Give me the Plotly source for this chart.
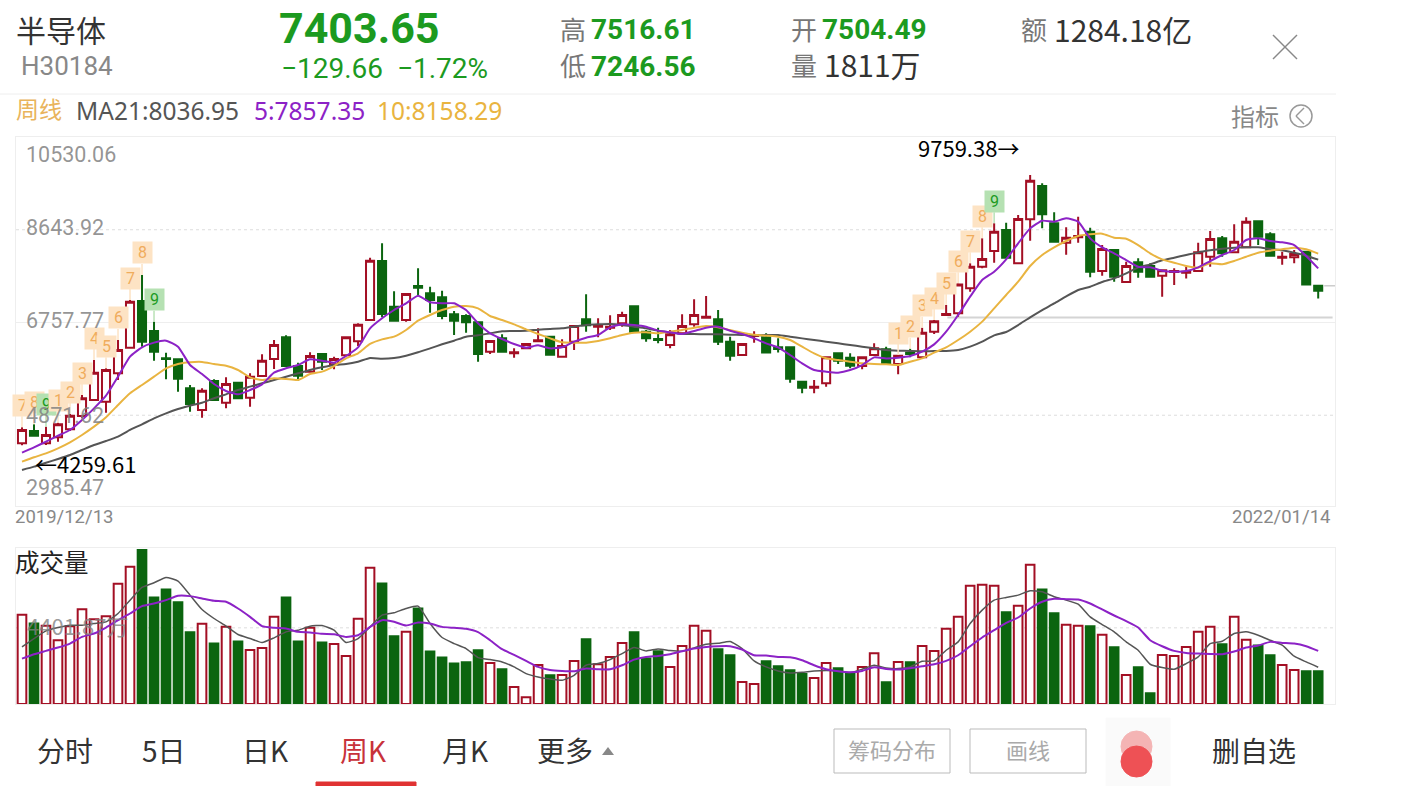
import plotly.graph_objects as go
from plotly.subplots import make_subplots

W, H = 1412, 786

# weekly candles
opens = [4300,4551,4300,4422,4585,4856,5182,5148,5724,6246,7195,6585,6029,6009,5419,4978,5568,5127,5534,5229,
         5670,6016,6456,5873,5758,6117,5907,6090,6375,6809,8009,7080,6809,7500,7351,7270,6924,6890,6761,6165,
         6436,6131,6232,6375,6470,6063,6368,6822,6673,6653,6741,7087,6571,6422,6300,6537,6720,6856,6822,6368,
         6096,6483,6456,6252,6252,5554,5432,5520,6130,6042,5873,6096,6212,5913,6144,6049,6571,6910,6944,7452,
         7893,8211,8638,7961,8855,9533,8774,8381,8489,8605,7805,8232,7581,7981,7906,7710,7784,7771,7805,8096,
         8469,8184,8286,8815,8550,8076,8083,8198,7504.49]
highs = [4626,4687,4639,4721,4897,5283,5995,5826,6402,7215,7724,6775,6144,6009,5487,5419,5602,5643,5555,5724,
         6110,6402,6497,5941,6151,6131,6063,6470,6741,8076,8368,7392,7351,7859,7487,7405,6992,6924,6761,6382,
         6517,6232,6334,6639,6483,6415,6707,7331,6843,6904,6978,7100,6605,6653,6605,6923,7228,7296,7011,6469,
         6320,6578,6537,6435,6252,5554,5588,6062,6130,6130,6062,6334,6266,6096,6225,6652,6808,7113,7554,7961,
         8469,8774,8788,8943,9759.38,9587,8998,8693,8910,8686,8333,8232,7994,8062,7961,7838,7859,7893,8381,8618,
         8516,8754,8896,8815,8591,8198,8232,8198,7516.61]
lows = [4259.61,4456,4267,4334,4551,4809,5168,4924,5588,6232,6266,5982,5602,5351,4944,4822,5182,5012,5216,5046,
        5656,5812,5860,5575,5738,5792,5805,6077,6280,6795,6863,6795,6775,7317,6958,6822,6504,6551,5961,6117,
        6144,6043,6219,6375,6104,6049,6199,6571,6456,6605,6673,6571,6368,6334,6232,6503,6672,6856,6300,5981,
        6096,6347,6150,6150,5534,5317,5317,5452,5913,5825,5805,6083,5927,5703,6049,6015,6523,6889,6876,7384,
        7859,7974,8076,7947,8421,8672,8401,8137,8381,7676,7710,7588,7567,7669,7689,7283,7520,7655,7791,7893,
        8096,8177,8266,8333,8116,7933,7961,7527,7246.56]
closes = [4571,4456,4470,4687,4863,5216,5738,5792,6199,7182,6368,6165,6016,5616,5100,5372,5182,5507,5216,5656,
          5982,6300,5873,5677,6077,5961,6016,6456,6714,8015,6931,6795,7337,7466,7215,6890,6795,6761,6117,6382,
          6165,6151,6321,6395,6104,6280,6687,6700,6707,6673,6910,6571,6436,6402,6517,6686,6910,6876,6368,6083,
          6320,6503,6150,6218,5615,5432,5452,6049,5981,5879,6049,6232,5927,6083,6117,6550,6781,6930,7533,7893,
          8049,8605,8076,8862,9642,8957,8401,8482,8516,7791,8252,7689,7906,7791,7689,7818,7805,7791,8184,8455,
          8164,8401,8808,8503,8116,8096,8150,7533,7403.65]

ma21 = [3758,3826,3907,3982,4063,4165,4267,4348,4436,4572,4687,4809,4911,4999,5066,5127,5216,5297,5385,5453,
        5521,5588,5656,5724,5792,5846,5894,5914,5961,6036,6022,6036,6083,6151,6232,6314,6388,6470,6497,6538,
        6578,6585,6592,6612,6626,6639,6673,6707,6720,6727,6707,6673,6639,6592,6558,6523,6523,6517,6517,6510,
        6503,6497,6503,6503,6469,6435,6402,6368,6334,6300,6266,6232,6198,6185,6178,6171,6178,6178,6198,6266,
        6368,6496,6564,6706,6862,7011,7147,7289,7418,7486,7581,7655,7757,7879,7940,8022,8076,8130,8184,8225,
        8259,8279,8286,8286,8252,8225,8177,8116,8036.95]
ma5 = [4111,4219,4334,4456,4572,4775,5012,5270,5656,6063,6253,6348,6388,6266,5894,5710,5507,5365,5297,5385,
       5500,5738,5826,5894,6009,5982,5941,6077,6253,6639,6843,7012,7148,7304,7168,7148,7148,7012,6741,6538,
       6422,6321,6246,6293,6232,6253,6368,6449,6504,6660,6721,6707,6673,6592,6558,6523,6584,6652,6672,6591,
       6523,6435,6334,6252,6096,5927,5791,5757,5737,5791,5893,6049,6028,6042,6076,6164,6313,6571,6910,7283,
       7622,7791,8042,8367,8672,8828,8808,8876,8808,8469,8286,8164,8028,7893,7879,7811,7791,7805,7879,8008,
       8130,8232,8435,8469,8415,8388,8333,8110,7857.35]
ma10 = [3928,4016,4097,4199,4321,4470,4639,4829,5080,5317,5487,5656,5826,5914,5948,5955,5914,5880,5792,5643,
        5588,5622,5609,5588,5710,5758,5873,6029,6131,6321,6415,6470,6605,6795,6910,7012,7080,7093,7046,6890,
        6809,6720,6619,6524,6436,6354,6348,6348,6382,6436,6504,6551,6558,6537,6571,6605,6652,6686,6659,6605,
        6551,6510,6490,6469,6402,6266,6130,6029,5995,5961,5927,5913,5907,5893,5961,6029,6144,6252,6402,6571,
        6775,7046,7317,7588,7906,8130,8286,8415,8516,8550,8564,8482,8462,8333,8164,8042,7974,7906,7873,7961,
        7941,8008,8096,8177,8218,8246,8279,8246,8158.29]

# volume, in 万
volume = [5153,4651,4516,3686,4497,5481,4902,5076,6948,7932,8897,6157,6620,5887,4150,4632,3493,4458,3609,3127,
          3242,5037,6157,3609,4400,3551,3474,2779,4922,7874,6967,3918,4169,5520,3030,2683,2335,2413,3107,2374,
          2007,984,386,2258,1660,1679,2490,3744,2297,2721,3532,4150,2625,3049,2142,3358,4516,4227,3165,2818,
          1274,1158,2470,2181,1949,1737,1505,2374,2065,1795,2142,2934,1255,2432,2413,3358,3069,4343,5037,6832,
          6890,6832,5308,5674,8048,6620,5250,4574,4516,4497,3995,3281,1679,2123,618,2837,2779,3300,4169,4458,
          3455,5037,3706,3378,2818,2258,1969,1891,1891]
vol_ma_short = [3300,3783,4227,4420,4555,4555,4651,4748,5230,6002,6736,7006,7315,7102,6292,5462,4941,4497,4014,3783,
                3551,3821,4169,4265,4497,4536,4265,3551,3783,4458,5134,5269,5520,5655,4651,3841,3493,3204,2683,2567,
                2432,2142,1756,1563,1448,1370,1660,2239,2335,2567,2914,3262,3069,3185,3088,3049,3242,3455,3513,3609,
                3204,2490,2142,1911,1795,1834,1911,1930,1911,1814,2007,2239,2084,2046,2142,2470,2490,3107,3590,4651,
                5423,6002,6157,6292,6543,6485,6195,6002,5771,5037,4593,4169,3590,3107,2297,2104,2007,2335,2721,3493,
                3628,4072,4169,3976,3686,3397,2760,2432,2123]
vol_ma_long = [2625,2876,3069,3262,3493,3879,4072,4420,4844,5230,5655,5809,6002,6253,6234,6099,5964,5906,5520,5037,
               4497,4400,4362,4169,4130,4053,4034,3879,3976,4458,4844,4748,4536,4709,4651,4458,4400,4343,4150,3686,
               3165,2837,2490,2142,1969,1911,1891,2046,2007,2007,2239,2567,2721,2779,2876,3049,3204,3300,3339,3339,
               3146,2818,2799,2721,2702,2528,2239,2007,1891,1834,1911,2123,2027,1988,2065,2181,2297,2490,2818,3339,
               3841,4265,4690,4999,5520,5906,6080,6060,6041,5809,5462,5115,4786,4420,3686,3339,3069,2953,2914,2895,
               2876,3030,3262,3378,3590,3532,3493,3339,3069]

# TD count bubbles: candle position and number
td_pos = [0,1,2,3,4,5,6,7,8,9,10,11, 73,74,75,76,77,78,79,80,81]
td_num = ["7","8","9","1","2","3","4","5","6","7","8","9", "1","2","3","4","5","6","7","8","9"]

grid_dotted = [8643.92, 4871.62]
grid_solid = [6757.77]
vol_grid = [4401.87]
y_labels = ["10530.06", "8643.92", "6757.77", "4871.62", "2985.47"]
y_label_px = [154, 227, 320, 415, 487]

RED, GREEN = "#a30f24", "#0b650f"
PURPLE, ORANGE, GREY = "#8c22c6", "#e9b440", "#555555"
TXT_GREEN = "#1c9a1f"
CJK = "Noto Sans CJK SC"
NUM = "Roboto"


def px(x):
    return x / W


def py(y):
    return 1 - y / H


x = list(range(len(closes)))

fig = make_subplots(rows=2, cols=1)

fig.add_trace(go.Candlestick(
    x=x, open=opens, high=highs, low=lows, close=closes,
    increasing=dict(line=dict(color=RED, width=2), fillcolor="white"),
    decreasing=dict(line=dict(color=GREEN, width=2), fillcolor=GREEN),
    whiskerwidth=0, hoverinfo="skip",
), row=1, col=1)
for vals, col in [(ma21, GREY), (ma10, ORANGE), (ma5, PURPLE)]:
    fig.add_trace(go.Scatter(x=x, y=vals, mode="lines", hoverinfo="skip",
                             line=dict(color=col, width=2, shape="spline", smoothing=0.5)), row=1, col=1)

bar_fill = ["white" if c > o else GREEN for o, c in zip(opens, closes)]
bar_line = [RED if c > o else GREEN for o, c in zip(opens, closes)]
fig.add_trace(go.Bar(x=x, y=volume, width=0.72, hoverinfo="skip",
                     marker=dict(color=bar_fill, line=dict(color=bar_line, width=2))), row=2, col=1)
fig.add_trace(go.Scatter(x=x, y=vol_ma_short, mode="lines", hoverinfo="skip",
                         line=dict(color=GREY, width=1.5, shape="spline", smoothing=0.5)), row=2, col=1)
fig.add_trace(go.Scatter(x=x, y=vol_ma_long, mode="lines", hoverinfo="skip",
                         line=dict(color=PURPLE, width=2, shape="spline", smoothing=0.5)), row=2, col=1)

annotations = []


def label(text, x0, y0, size, color, anchor="left", family=CJK):
    # annotation boxes sit a little right of and under the given point
    if anchor == "left":
        x0 -= 2
    elif anchor == "right":
        x0 += 2
    if family == CJK:
        y0 -= 2
    annotations.append(dict(text=text, x=px(x0), y=py(y0), xref="paper", yref="paper", showarrow=False,
                            xanchor=anchor, yanchor="middle", borderpad=0,
                            font=dict(size=size, color=color, family=family)))


# TD bubbles, stem pointing at the candle high
for pos, num in zip(td_pos, td_num):
    is_nine = num == "9"
    annotations.append(dict(text=num, x=pos, y=highs[pos], xref="x", yref="y", ax=0, ay=-22,
                            showarrow=True, arrowhead=0, arrowwidth=1.5,
                            arrowcolor="#b9e2b6" if is_nine else "#fde3c4",
                            width=19, height=21, borderpad=0,
                            bgcolor="#b5e1b2" if is_nine else "#fde3c4",
                            font=dict(size=16, color="#1c9a1f" if is_nine else "#f0ac5c", family=NUM)))

# header
label("半导体", 17, 31, 30, "#333333")
label("H30184", 22, 66, 26, "#888888", family=NUM)
label("<b>7403.65</b>", 280, 28, 43, TXT_GREEN, family=NUM)
label("−129.66  −1.72%", 282, 68, 28, TXT_GREEN, family=NUM)
label("高", 561, 31, 26, "#777777")
label("低", 561, 66, 26, "#777777")
label("<b>7516.61</b>", 592, 30, 28, TXT_GREEN, family=NUM)
label("<b>7246.56</b>", 592, 66, 28, TXT_GREEN, family=NUM)
label("开", 792, 31, 26, "#777777")
label("量", 792, 66, 26, "#777777")
label("<b>7504.49</b>", 823, 30, 28, TXT_GREEN, family=NUM)
label("1811万", 825, 66, 30, "#333333")
label("额", 1022, 31, 26, "#777777")
label("1284.18亿", 1055, 31, 30, "#333333")

# indicator line
label("周线", 17, 110, 23, "#e9b45c")
label("MA21:8036.95", 77, 111, 24.5, "#555555", family="Noto Sans")
label("5:7857.35", 255, 111, 24.5, PURPLE, family="Noto Sans")
label("10:8158.29", 378, 111, 24.5, ORANGE, family="Noto Sans")
label("指标", 1232, 117, 24, "#888888")

# price axis labels
for text, ypx in zip(y_labels, y_label_px):
    label(text, 27, ypx, 21.5, "rgba(130,130,130,0.85)", family=NUM)
label("9759.38→", 919, 149, 22, "#000000")
label("←4259.61", 36, 465, 22, "#000000")
label("2019/12/13", 16, 517, 18.5, "#888888", family=NUM)
label("2022/01/14", 1329, 517, 18.5, "#888888", anchor="right", family=NUM)

label("成交量", 16, 563, 24.5, "#222222")
label("4401.87万", 28, 627, 22, "rgba(130,130,130,0.8)")

# bottom tabs
label("分时", 38, 752, 28, "#333333")
label("5日", 143, 752, 28, "#333333")
label("日K", 243, 752, 28, "#333333")
label("周K", 341, 752, 28, "#c8323a")
label("月K", 443, 752, 28, "#333333")
label("更多", 538, 752, 28, "#333333")
label("筹码分布", 892, 751, 22, "#aaaaaa", anchor="center")
label("画线", 1028, 751, 22, "#aaaaaa", anchor="center")
label("删自选", 1213, 752, 28, "#333333")

shapes = []


def hline(x0, x1, y0, color, width=1):
    shapes.append(dict(type="line", xref="paper", yref="paper", x0=px(x0), x1=px(x1), y0=py(y0), y1=py(y0),
                       line=dict(color=color, width=width)))


def box(x0, y0, x1, y1, line, fill="rgba(0,0,0,0)", kind="rect", width=1):
    shapes.append(dict(type=kind, xref="paper", yref="paper", x0=px(x0), x1=px(x1), y0=py(y0), y1=py(y1),
                       line=dict(color=line, width=width), fillcolor=fill))


# grid lines on the value scales
for v in grid_dotted:
    shapes.append(dict(type="line", xref="x domain", yref="y", x0=0, x1=1, y0=v, y1=v, layer="below",
                       line=dict(color="#dddddd", width=1, dash="dot")))
for v in grid_solid:
    shapes.append(dict(type="line", xref="x domain", yref="y", x0=0, x1=1, y0=v, y1=v, layer="below",
                       line=dict(color="#eeeeee", width=1)))
for v in vol_grid:
    shapes.append(dict(type="line", xref="x2 domain", yref="y2", x0=0, x1=1, y0=v, y1=v, layer="below",
                       line=dict(color="#dddddd", width=1, dash="dot")))
# flat levels near the last candle
shapes.append(dict(type="line", xref="x", yref="y", x0=77.1, x1=109.2, y0=6860, y1=6860, layer="below",
                   line=dict(color="#d4d4d4", width=2)))
shapes.append(dict(type="line", xref="x", yref="y", x0=108.5, x1=109.4, y0=7504.49, y1=7504.49, layer="below",
                   line=dict(color="#cccccc", width=1.5)))

hline(0, 1336, 94, "#eeeeee")
# close cross
shapes.append(dict(type="line", xref="paper", yref="paper", x0=px(1273), x1=px(1297), y0=py(35), y1=py(59),
                   line=dict(color="#888888", width=1.5)))
shapes.append(dict(type="line", xref="paper", yref="paper", x0=px(1297), x1=px(1273), y0=py(35), y1=py(59),
                   line=dict(color="#888888", width=1.5)))
# 指标 circle with chevron
box(1290, 105, 1312, 127, "#999999", kind="circle", width=1.5)
shapes.append(dict(type="line", xref="paper", yref="paper", x0=px(1304), x1=px(1296), y0=py(108), y1=py(116),
                   line=dict(color="#999999", width=1.5)))
shapes.append(dict(type="line", xref="paper", yref="paper", x0=px(1296), x1=px(1304), y0=py(116), y1=py(124),
                   line=dict(color="#999999", width=1.5)))
# bottom controls
box(316, 782, 416, 786, "#e03232", "#e03232")
shapes.append(dict(type="path", xref="paper", yref="paper",
                   path=f"M {px(602)} {py(755)} L {px(614)} {py(755)} L {px(608)} {py(747)} Z",
                   fillcolor="#888888", line=dict(color="#888888", width=0)))
box(834, 729, 950, 773, "#bbbbbb")
box(970, 729, 1086, 773, "#bbbbbb")
box(1106, 718, 1170, 786, "#fafafa", "#fafafa")
box(1121, 731, 1152, 762, "#f4b4b4", "#f4b4b4", kind="circle")
box(1121, 746, 1152, 777, "#ee5155", "#ee5155", kind="circle")

fig.update_layout(
    width=W, height=H, margin=dict(l=0, r=0, t=0, b=0), autosize=False,
    paper_bgcolor="white", plot_bgcolor="white", showlegend=False, boxgap=0.18, boxgroupgap=0.18,
    annotations=annotations, shapes=shapes,
    xaxis=dict(domain=[px(16), px(1335)], range=[-0.5, 109.4], visible=True, showticklabels=False, ticks="",
               showgrid=False, zeroline=False, rangeslider=dict(visible=False),
               showline=True, mirror=True, linecolor="#eeeeee"),
    yaxis=dict(domain=[py(506), py(137)], range=[3026, 10530.06], showticklabels=False, ticks="",
               showgrid=False, zeroline=False, showline=True, mirror=True, linecolor="#eeeeee"),
    xaxis2=dict(domain=[px(16), px(1335)], range=[-0.5, 109.4], showticklabels=False, ticks="",
                showgrid=False, zeroline=False, showline=True, mirror=True, linecolor="#eeeeee"),
    yaxis2=dict(domain=[py(704), py(548)], range=[0, 9015], showticklabels=False, ticks="",
                showgrid=False, zeroline=False, showline=True, mirror=True, linecolor="#eeeeee"),
)

fig.write_html("out.html", config=dict(displayModeBar=False),
               post_script="document.body.style.margin='0';document.body.style.overflow='hidden';")
